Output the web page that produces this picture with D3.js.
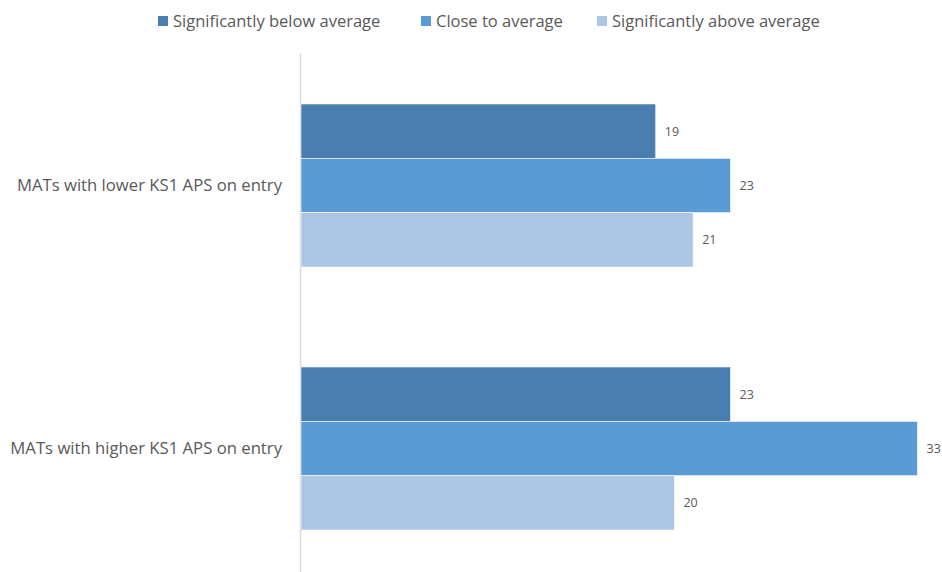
<!DOCTYPE html>
<html><head><meta charset="utf-8">
<script src="https://cdn.jsdelivr.net/npm/d3@7"></script>
<style>body{margin:0;background:#fff}</style>
</head><body>
<svg id="chart" width="942" height="572"></svg>
<script>
const categories = ["MATs with lower KS1 APS on entry", "MATs with higher KS1 APS on entry"];
const seriesNames = ["Significantly below average", "Close to average", "Significantly above average"];
const belowAvg = [19, 23];
const closeAvg = [23, 33];
const aboveAvg = [21, 20];
const seriesValues = [belowAvg, closeAvg, aboveAvg];
const colors = ["#4a7eb0", "#5b9bd5", "#adc6e6"];

const font = "'Open Sans', sans-serif";
const svg = d3.select("#chart");
const x = d3.scaleLinear().domain([0, 33]).range([300.5, 917.5]);
const y0 = d3.scaleBand().domain(categories).range([54, 580]).paddingInner(0.38).paddingOuter(0.19);
const y1 = d3.scaleBand().domain(seriesNames).range([0, y0.bandwidth()]);

// axis line
svg.append("line").attr("x1", 300.5).attr("x2", 300.5).attr("y1", 54).attr("y2", 580)
  .attr("stroke", "#d9d9d9").attr("stroke-width", 1.5);

const data = [];
categories.forEach((c, i) => seriesNames.forEach((s, j) => data.push({c, s, j, v: seriesValues[j][i]})));

svg.append("g").selectAll("rect").data(data).join("rect")
  .attr("x", x(0) + 0.5)
  .attr("y", d => y0(d.c) + y1(d.s))
  .attr("width", d => x(d.v) - x(0) - 0.5)
  .attr("height", y1.bandwidth())
  .attr("fill", d => colors[d.j])
  .attr("stroke", "#ffffff").attr("stroke-width", 0.6);

svg.append("g").selectAll("text").data(data).join("text")
  .attr("x", d => x(d.v) + 9)
  .attr("y", d => y0(d.c) + y1(d.s) + y1.bandwidth() / 2)
  .attr("dy", "0.35em")
  .attr("font-family", font).attr("font-size", 12.5).attr("fill", "#595959")
  .text(d => d.v);

// category labels
const yc = d3.axisLeft(y0).tickSize(0).tickPadding(18);
const ag = svg.append("g").attr("transform", "translate(300,0)").call(yc);
ag.select(".domain").remove();
ag.selectAll("text").attr("font-family", font).attr("font-size", 16.7).attr("fill", "#595959");

// legend
const legendX = [158, 421, 597];
const lg = svg.append("g");
seriesNames.forEach((s, j) => {
  lg.append("rect").attr("x", legendX[j]).attr("y", 16).attr("width", 10).attr("height", 10).attr("fill", colors[j]);
  lg.append("text").attr("x", legendX[j] + 15).attr("y", 21).attr("dy", "0.35em")
    .attr("font-family", font).attr("font-size", 16.5).attr("fill", "#595959").text(s);
});
</script>
</body></html>
